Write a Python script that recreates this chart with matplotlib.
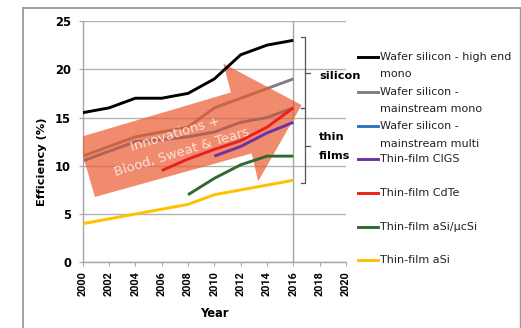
#!/usr/bin/env python3
"""
Solar cell efficiency trends, wafer silicon vs thin films, 2000-2016.
"""

import matplotlib
matplotlib.use('Agg')
import matplotlib.pyplot as plt
from matplotlib.patches import Polygon
from matplotlib.lines import Line2D

# ---- data -------------------------------------------------------------
years = [2000, 2002, 2004, 2006, 2008, 2010, 2012, 2014, 2016]
high_end_mono = [15.5, 16, 17, 17, 17.5, 19, 21.5, 22.5, 23]
mainstream_mono = [11, 12, 13, 13.5, 14, 16, 17, 18, 19]
mainstream_multi = [10.5, 11.5, 12.5, 12.7, 13, 13.5, 14.5, 15, 16]

cigs_years = [2010, 2012, 2014, 2016]
cigs = [11, 12, 13.4, 14.5]

cdte_years = [2006, 2008, 2010, 2012, 2014, 2016]
cdte = [9.5, 10.7, 11.7, 12.6, 14, 16]

asi_ucsi_years = [2008, 2010, 2012, 2014, 2016]
asi_ucsi = [7, 8.7, 10.1, 11, 11]

asi = [4, 4.5, 5, 5.5, 6, 7, 7.5, 8, 8.5]

labels = ['Wafer silicon - high end\nmono',
          'Wafer silicon -\nmainstream mono',
          'Wafer silicon -\nmainstream multi',
          'Thin-film CIGS',
          'Thin-film CdTe',
          'Thin-film aSi/\u03bccSi',
          'Thin-film aSi']
colors = ['#000000', '#7f7f7f', '#2f75c0', '#7030a0',
          '#e8211c', '#2e6b2e', '#ffc000']

# ---- figure -------------------------------------------------------------
W, H = 521, 328
fig = plt.figure(figsize=(W / 100, H / 100), dpi=100)
ax = fig.add_axes([82.7 / W, 1 - 262.3 / H, 263.3 / W, 241.3 / H])

series = [(years, high_end_mono), (years, mainstream_mono),
          (years, mainstream_multi), (cigs_years, cigs),
          (cdte_years, cdte), (asi_ucsi_years, asi_ucsi), (years, asi)]

for i, ((x, y), c) in enumerate(zip(series, colors)):
    # the two mainstream silicon lines sit underneath the arrow
    z = 2 if i in (1, 2) else 4
    ax.plot(x, y, color=c, lw=2.1, solid_capstyle='butt', zorder=z)

# big "progress" arrow
arrow_pts = [(1999.62, 12.9), (2011.26, 17.6), (2010.68, 20.6),
             (2016.63, 16.29), (2013.33, 8.4), (2012.83, 11.28),
             (2000.93, 6.77)]
ax.add_patch(Polygon(arrow_pts, closed=True, facecolor='#ea5a30',
                     edgecolor='none', alpha=0.7, zorder=3))
ax.text(2007.06, 13.3, 'Innovations +', rotation=17, rotation_mode='anchor',
        ha='center', va='center', fontsize=9.5, color='#fbe3da', zorder=5)
ax.text(2007.5, 11.36, 'Blood, Sweat & Tears', rotation=17,
        rotation_mode='anchor', ha='center', va='center', fontsize=9.5,
        color='#fbe3da', zorder=5)

# "today" marker line
ax.axvline(2016, color='#a6a6a6', lw=1, zorder=1)

# brackets grouping silicon and thin film
bc = '#555555'
bx, bl, br = 2016.88, 2016.55, 2017.3
for top, bot, mid in [(23.3, 16.0, 19.6), (16.0, 8.2, 12.05)]:
    ax.plot([bl, bx, bx, bl], [top, top, bot, bot], color=bc, lw=0.9,
            clip_on=False, zorder=6)
    ax.plot([bx, br], [mid, mid], color=bc, lw=0.9, clip_on=False, zorder=6)
ax.text(2017.95, 19.25, 'silicon', fontsize=8.1, fontweight='bold',
        va='center', ha='left', clip_on=False)
ax.text(2017.95, 12.95, 'thin', fontsize=8.1, fontweight='bold',
        va='center', ha='left', clip_on=False)
ax.text(2017.95, 11.0, 'films', fontsize=8.1, fontweight='bold',
        va='center', ha='left', clip_on=False)

# axes styling
ax.set_xlim(2000, 2020)
ax.set_ylim(0, 25)
ax.set_xticks(range(2000, 2021, 2))
ax.set_yticks(range(0, 26, 5))
ax.yaxis.grid(True, color='#b3b3b3', lw=1)
ax.set_axisbelow(True)
for s in ['top', 'right']:
    ax.spines[s].set_visible(False)
for s in ['left', 'bottom']:
    ax.spines[s].set_color('#a6a6a6')
    ax.spines[s].set_linewidth(1)
ax.tick_params(axis='both', direction='out', length=3, color='#a6a6a6')
ax.tick_params(axis='y', pad=5.5, labelsize=8.3)
ax.tick_params(axis='x', pad=3.5, labelsize=7.8, labelrotation=90)
for t in ax.get_yticklabels():
    t.set_fontweight('bold')
for t in ax.get_xticklabels():
    t.set_fontweight('bold')
    t.set_family('Roboto')

ax.set_xlabel('Year', fontsize=8.3, fontweight='bold')
ax.set_ylabel('Efficiency (%)', fontsize=8.2, fontweight='bold')
ax.xaxis.set_label_coords(0.5, -0.185)
ax.yaxis.set_label_coords(-0.136, 0.416)

# legend drawn by hand so wrapped labels line up like the original
entry_y = [56.7, 91.7, 126, 159.3, 193.3, 226.7, 260]
for yy, lab, c in zip(entry_y, labels, colors):
    fy = 1 - yy / H
    fig.add_artist(Line2D([358 / W, 378 / W], [fy, fy], color=c, lw=2.1,
                          transform=fig.transFigure))
    for k, part in enumerate(lab.split('\n')):
        fig.text(380 / W, 1 - (yy + 17.7 * k) / H, part, fontsize=8,
                 va='center', ha='left', color='#222222')

# outer frame
fc = '#9a9a9a'
fig.add_artist(Line2D([23 / W, 23 / W], [0, 1 - 8.3 / H], color=fc, lw=1.3,
                      transform=fig.transFigure))
fig.add_artist(Line2D([23 / W, 519.5 / W], [1 - 8.3 / H, 1 - 8.3 / H],
                      color=fc, lw=1.3, transform=fig.transFigure))
fig.add_artist(Line2D([519.5 / W, 519.5 / W], [0, 1 - 8.3 / H], color=fc,
                      lw=1.0, transform=fig.transFigure))

fig.savefig('out.png', dpi=100, facecolor='white')
